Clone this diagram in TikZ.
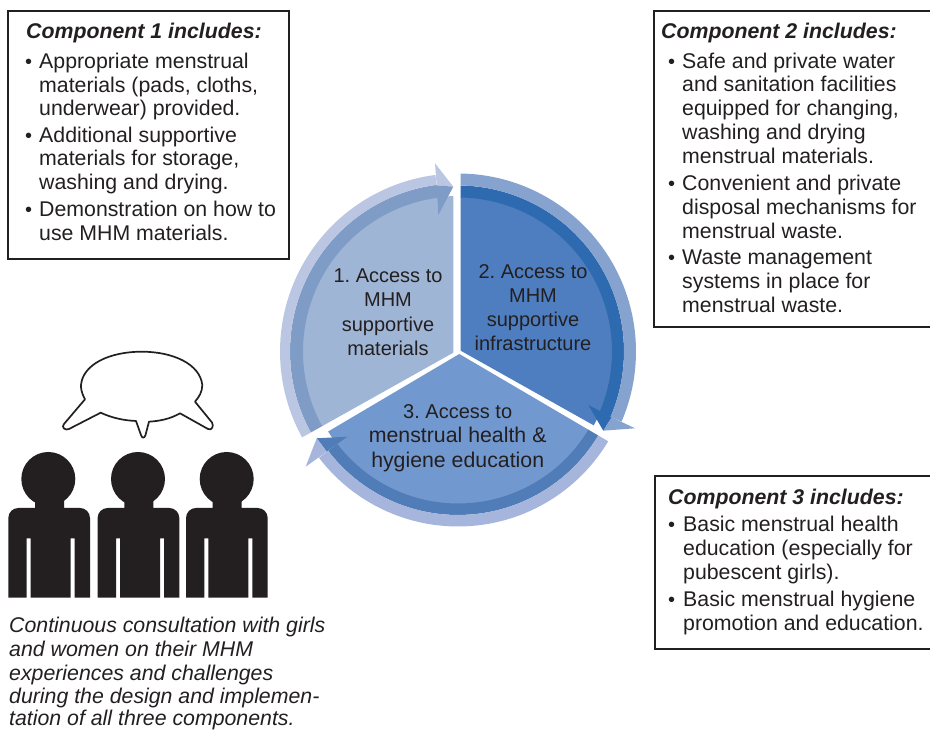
\documentclass[tikz,border=0pt]{standalone}
\usepackage{fontspec}
\setmainfont{Liberation Sans}
\frenchspacing
\definecolor{ink}{HTML}{231F20}
\definecolor{aF}{HTML}{9FB5D5}\definecolor{aB}{HTML}{7F9CC6}\definecolor{aL}{HTML}{BBC7E2}
\definecolor{bF}{HTML}{4E7EC0}\definecolor{bB}{HTML}{2E6AB0}\definecolor{bL}{HTML}{85A3CE}
\definecolor{cF}{HTML}{7299CF}\definecolor{cB}{HTML}{507CB8}\definecolor{cL}{HTML}{A5B5DB}
\tikzset{
  x=1pt,y=1pt,
  txt/.style={inner sep=0pt,anchor=base west,align=left,text=ink,font=\fontsize{21.3}{24}\selectfont},
  ctr/.style={inner sep=0pt,anchor=base,align=center,text=ink,font=\fontsize{20}{24}\selectfont},
  ctrb/.style={inner sep=0pt,anchor=base,align=center,text=ink,font=\fontsize{21.3}{24}\selectfont},
  ttl/.style={inner sep=0pt,anchor=base west,text=ink,font=\fontsize{21.3}{24}\selectfont\bfseries\itshape},
  capline/.style={inner sep=0pt,anchor=base west,align=left,text=ink,font=\fontsize{21.3}{24}\selectfont\itshape},
  bul/.style={inner sep=0pt,anchor=base west,text=ink,font=\fontsize{20}{24}\selectfont},
  box/.style={draw=ink,line width=1.5pt},
  person/.style={fill=ink}
}
\newcommand{\segment}[8]{% apex, far1, far2, fill, band, light, start, end; radii in \rF \rB \rL
  \begin{scope}
    \clip #1 -- #2 -- #3 -- cycle;
    \fill[#4] (458,378.5) circle[radius=\rF+0.5];
    \fill[#5] ([shift={(#7:\rB)}]458,378.5) arc[start angle=#7,end angle=#8,radius=\rB] -- ([shift={(#8:\rF)}]458,378.5) arc[start angle=#8,end angle=#7,radius=\rF] -- cycle;
    \fill[#6] ([shift={(#7:\rL)}]458,378.5) arc[start angle=#7,end angle=#8,radius=\rL] -- ([shift={(#8:\rB)}]458,378.5) arc[start angle=#8,end angle=#7,radius=\rB] -- cycle;
  \end{scope}
}
\newcommand{\humanfig}[2]{% body offset, head x
  \begin{scope}[shift={(#1,0)}]
    \fill[person] (8.3,132.3) -- (8.3,212) arc[start angle=180,end angle=90,radius=10] -- (35,222) -- (35,235) -- (64,235) -- (64,222) -- (80,222) arc[start angle=90,end angle=0,radius=10] -- (90,132.3) -- (74.7,132.3) -- (74.7,191.7) -- (70.7,191.7) -- (70.7,132.3) -- (30.7,132.3) -- (30.7,191.7) -- (26.7,191.7) -- (26.7,132.3) -- cycle;
  \end{scope}
  \fill[person] (#2,251) circle[radius=27];
}
\begin{document}
\begin{tikzpicture}
\useasboundingbox (0,0) rectangle (930,730);
% boxes
\draw[box] (8,471) rectangle (289,719);
\draw[box] (935,719) -- (654,719) -- (654,403) -- (935,403);
\draw[box] (935,254) -- (655,254) -- (655,81) -- (935,81);
% box 1
\node[ttl] (t1) at (26,691) {Component 1 includes:};
\node[bul] (b11) at (25,661) {•};
\node[txt] (i11) at (39,661) {Appropriate menstrual};
\node[txt] (i12) at (39,637.5) {materials (pads, cloths,};
\node[txt] (i13) at (39,614) {underwear) provided.};
\node[bul] (b12) at (25,587) {•};
\node[txt] (i14) at (39,587) {Additional supportive};
\node[txt] (i15) at (39,564) {materials for storage,};
\node[txt] (i16) at (39,540) {washing and drying.};
\node[bul] (b13) at (25,513) {•};
\node[txt] (i17) at (39,513) {Demonstration on how to};
\node[txt] (i18) at (39,489.5) {use MHM materials.};
% box 2
\node[ttl] (t2) at (661,691) {Component 2 includes:};
\node[bul] (b21) at (668,661) {•};
\node[txt] (i21) at (682,661) {Safe and private water};
\node[txt] (i22) at (682,638) {and sanitation facilities};
\node[txt] (i23) at (682,614) {equipped for changing,};
\node[txt] (i24) at (682,590) {washing and drying};
\node[txt] (i25) at (682,566) {menstrual materials.};
\node[bul] (b22) at (668,539) {•};
\node[txt] (i26) at (682,539) {Convenient and private};
\node[txt] (i27) at (682,515) {disposal mechanisms for};
\node[txt] (i28) at (682,491) {menstrual waste.};
\node[bul] (b23) at (668,465) {•};
\node[txt] (i29) at (682,465) {Waste management};
\node[txt] (i2a) at (682,441) {systems in place for};
\node[txt] (i2b) at (682,417) {menstrual waste.};
% box 3
\node[ttl] (t3) at (668,225) {Component 3 includes:};
\node[bul] (b31) at (668,198) {•};
\node[txt] (i31) at (683,198) {Basic menstrual health};
\node[txt] (i32) at (683,174) {education (especially for};
\node[txt] (i33) at (683,150) {pubescent girls).};
\node[bul] (b32) at (668,123) {•};
\node[txt] (i34) at (683,123) {Basic menstrual hygiene};
\node[txt] (i35) at (683,99) {promotion and education.};
% cycle
\def\rF{155}\def\rB{168}\def\rL{178}
\segment{(453.3,377.3)}{(453.3,600)}{(60,600)-- (60,157)}{aF}{aB}{aL}{212}{97.3}
\def\rF{154}\def\rB{166}\def\rL{178}
\segment{(460.7,379.3)}{(460.7,600)}{(860,600) -- (860,155.3)}{bF}{bB}{bL}{90}{-23.2}
\def\rF{152}\def\rB{163.5}\def\rL{175}
\segment{(459.3,376)}{(860,141)}{(860,100) -- (60,100) -- (60,140)}{cF}{cB}{cL}{-28}{-142.6}
% arrowheads
\fill[aL] (453.3,543.3) -- (435,566.7) -- (436.7,544.7) -- cycle;
\fill[aB] (453.3,543.3) -- (436.7,544.7) -- (438.3,515) -- cycle;
\fill[bB] (603.3,299.3) -- (588.3,325) -- (611.7,312.7) -- cycle;
\fill[bL] (603.3,299.3) -- (611.7,312.7) -- (635,301.7) -- cycle;
\fill[cB] (316.7,291.7) -- (347.3,293.3) -- (326.7,278.3) -- cycle;
\fill[cL] (316.7,291.7) -- (326.7,278.3) -- (305.7,263.3) -- cycle;
\node[ctr] (s1) at (388,447.3) {1. Access to};
\node[ctr] (s1b) at (388,423.3) {MHM};
\node[ctr] (s1c) at (388,398.8) {supportive};
\node[ctr] (s1d) at (388,374.8) {materials};
\node[ctr] (s2) at (533,451.3) {2. Access to};
\node[ctr] (s2b) at (533,427.3) {MHM};
\node[ctr] (s2c) at (533,403.3) {supportive};
\node[ctr] (s2d) at (533,379.3) {infrastructure};
\node[ctr] (s3) at (457.7,311) {3. Access to};
\node[ctrb] (s3b) at (457.7,287) {menstrual health \&};
\node[ctrb] (s3c) at (457.7,262.5) {hygiene education};
% people
\humanfig{0}{48.3}
\humanfig{89.3}{138}
\humanfig{177.7}{226.7}
% bubble
\draw[ink,line width=1.7pt,line join=round,fill=white]
  (85,330.7) .. controls (81,338) and (81,342) .. (81,345)
  .. controls (83,366) and (110,378.3) .. (141.7,378.3)
  .. controls (173,378.3) and (200,366) .. (202.3,345)
  .. controls (202.3,338) and (199,333) .. (195,328.3)
  -- (212,307.5) .. controls (214,304) and (212,299) .. (208,301)
  -- (180,316.7) .. controls (170,311) and (160,309) .. (149,308.3)
  -- (145.5,295) .. controls (144.5,291.5) and (142,291.5) .. (141,295)
  -- (136,309) .. controls (124,309.5) and (112,312) .. (100.7,317.3)
  -- (69,301) .. controls (65,299) and (61,303) .. (64,306)
  -- cycle;
% caption
\node[capline] (c1) at (9,97) {Continuous consultation with girls};
\node[capline] (c2) at (9,73) {and women on their MHM};
\node[capline] (c3) at (9,49) {experiences and challenges};
\node[capline] (c4) at (9,26) {during the design and implemen-};
\node[capline] (c5) at (9,4.8) {tation of all three components.};
\end{tikzpicture}
\end{document}
